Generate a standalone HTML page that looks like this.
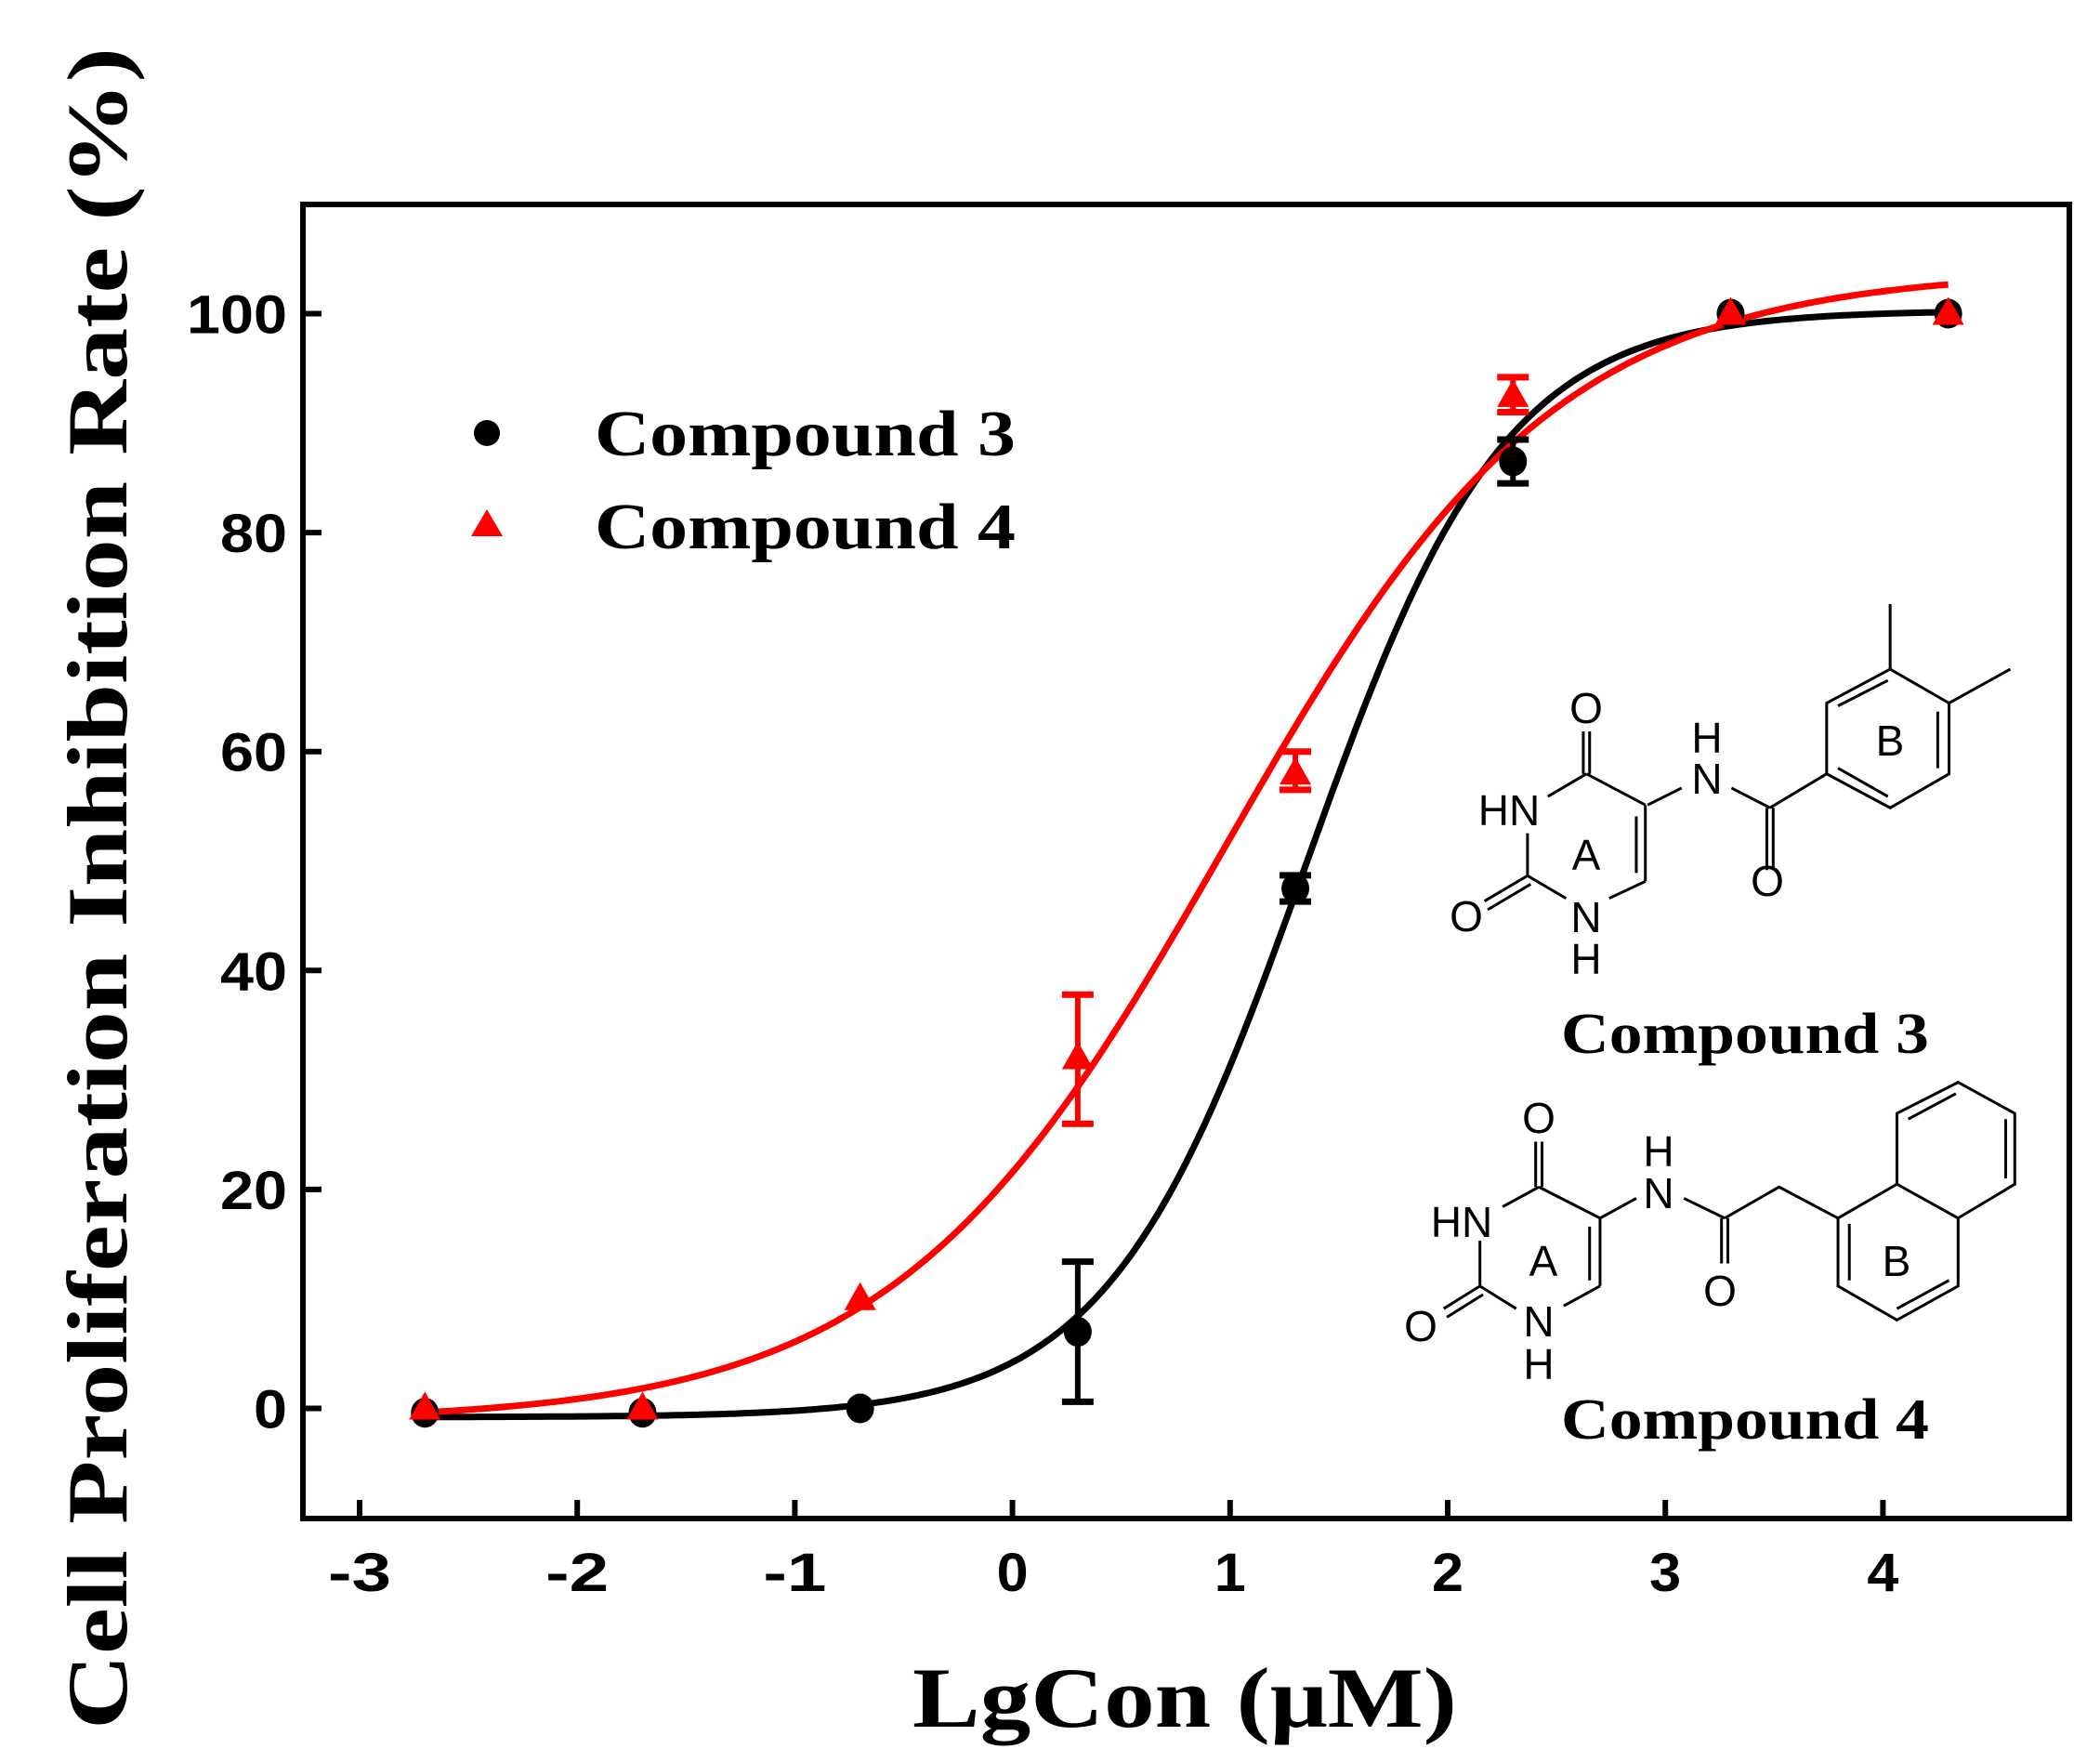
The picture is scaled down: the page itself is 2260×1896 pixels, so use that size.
<!DOCTYPE html>
<html><head><meta charset="utf-8"><style>
html,body{margin:0;padding:0;background:#fff;}
svg{display:block;}
.tick{font-family:"Liberation Sans",Arial,sans-serif;font-weight:bold;font-size:58px;}
.ser{font-family:"Liberation Serif","Times New Roman",serif;font-weight:bold;}
.chem{font-family:"Liberation Sans",Arial,sans-serif;font-size:46px;}
</style></head><body>
<svg id="s" width="2260" height="1896" viewBox="0 0 2260 1896" xmlns="http://www.w3.org/2000/svg">
<rect width="2260" height="1896" fill="#fff"/>
<g id="plot"></g>
<text class="ser" x="0" y="0" font-size="92" text-anchor="middle" textLength="1810" lengthAdjust="spacingAndGlyphs" transform="translate(136,956) rotate(-90)">Cell Proliferation Inhibition Rate (%)</text>
<text class="ser" x="1275" y="1858" font-size="92" text-anchor="middle" textLength="586" lengthAdjust="spacingAndGlyphs">LgCon (μM)</text>
<circle cx="524" cy="466" r="14" fill="#000"/>
<polygon points="524,548 507,577 541,577" fill="#f00"/>
<text class="ser" x="640" y="490" font-size="70" textLength="453" lengthAdjust="spacingAndGlyphs">Compound 3</text>
<text class="ser" x="640" y="590" font-size="70" textLength="453" lengthAdjust="spacingAndGlyphs">Compound 4</text>
<text class="ser" x="1680" y="1133" font-size="62" textLength="396" lengthAdjust="spacingAndGlyphs">Compound 3</text>
<text class="ser" x="1680" y="1548" font-size="62" textLength="396" lengthAdjust="spacingAndGlyphs">Compound 4</text>
<g transform="translate(1500,650) scale(0.4878,0.609)" stroke="#000" stroke-width="3" fill="none">
  <path vector-effect="non-scaling-stroke" d="M418,225V300M432,225V300 M425,300L340,340 M295,405V480 M295,480L200,525 M302,495L207,540 M295,480L380,520 M475,520L555,490 M555,490V355 M535,375V475 M555,355L425,300 M560,355L635,325 M745,325L830,360 M823,360V470 M837,360V470 M830,360L955,300 M955,300V175L1095,115L1225,175V300L1095,360Z M980,180L1090,135 M1200,190V290 M1090,340L980,290 M1095,115V0 M1225,175L1360,115"/>
  <path vector-effect="non-scaling-stroke" d="M313,950V1030M327,950V1030 M320,1030L240,1065 M190,1125V1205 M190,1205L110,1245 M197,1220L117,1260 M190,1205L270,1245 M375,1240L455,1205 M455,1205V1085 M432,1100V1195 M455,1085L320,1030 M455,1085L535,1050 M640,1050L730,1085 M723,1085V1165 M737,1085V1165 M730,1085L850,1030L980,1085 M980,1085V1205L1110,1265L1245,1205V1085L1110,1025Z M1005,1095V1195 M1110,1245L1225,1195 M1110,1025V900L1245,845L1370,900V1025L1245,1085 M1135,910L1240,865 M1350,910V1015"/>
</g>
<g class="chem" fill="#000" text-anchor="middle">
  <text x="1707" y="778">O</text><text x="1624" y="888">HN</text><text x="1578" y="1002">O</text>
  <text x="1707" y="1003">N</text><text x="1707" y="1048">H</text><text x="1837" y="854">N</text><text x="1837" y="810">H</text>
  <text x="1902" y="964">O</text><text x="2034" y="813">B</text><text x="1707" y="936">A</text>
  <text x="1656" y="1219">O</text><text x="1573" y="1331">HN</text><text x="1529" y="1443">O</text>
  <text x="1656" y="1438">N</text><text x="1656" y="1484">H</text><text x="1785" y="1300">N</text><text x="1785" y="1255">H</text>
  <text x="1851" y="1405">O</text><text x="2041" y="1373">B</text><text x="1661" y="1373">A</text>
</g>
</svg>
<script>
(function(){
var g=document.getElementById('plot'),NS='http://www.w3.org/2000/svg';
function X(v){return 387+(v+3)*234.2;}
function Y(v){return 1515.5-v*11.78;}
function el(t,a){var e=document.createElementNS(NS,t);for(var k in a)e.setAttribute(k,a[k]);g.appendChild(e);return e;}
el('rect',{x:326,y:220,width:1901,height:1414,fill:'none',stroke:'#000','stroke-width':6});
for(var i=-3;i<=4;i++){var x=X(i);el('line',{x1:x,y1:1634,x2:x,y2:1614,stroke:'#000','stroke-width':6});
 var s=String(i);var t=el('text',{x:x,y:1712,'text-anchor':'middle','class':'tick',textLength:s.length*34,lengthAdjust:'spacingAndGlyphs'});t.textContent=s;}
for(var v=0;v<=100;v+=20){var y=Y(v);el('line',{x1:326,y1:y,x2:346,y2:y,stroke:'#000','stroke-width':6});
 var s=String(v);var t=el('text',{x:309,y:y+21,'text-anchor':'end','class':'tick',textLength:s.length*36,lengthAdjust:'spacingAndGlyphs'});t.textContent=s;}
function curve(A1,A2,x0,p,col){var d='';for(var x=-2.7;x<=4.301;x+=0.02){var y=A1+(A2-A1)/(1+Math.pow(10,(x0-x)*p));d+=(d?'L':'M')+X(x).toFixed(1)+','+Y(y).toFixed(1);}
 el('path',{d:d,fill:'none',stroke:col,'stroke-width':7});}
curve(-0.8,100.3,1.35,0.95,'#000');
curve(-1.2,104,0.98,0.57,'#f00');
function eb(x,lo,hi,col){var cx=X(x);el('line',{x1:cx,y1:Y(lo),x2:cx,y2:Y(hi),stroke:col,'stroke-width':6});
 [lo,hi].forEach(function(v){el('line',{x1:cx-17,y1:Y(v),x2:cx+17,y2:Y(v),stroke:col,'stroke-width':7});});}
var c3=[[-2.7,-0.4],[-1.7,-0.4],[-0.7,0],[0.3,7],[1.3,47.5],[2.3,86.5],[3.3,100],[4.3,100]];
var c4=[[-2.7,0],[-1.7,0],[-0.7,10],[0.3,32],[1.3,58],[2.3,92.5],[3.3,100],[4.3,100]];
eb(0.3,0.6,13.4,'#000');eb(1.3,46.3,48.7,'#000');eb(2.3,84.5,88.5,'#000');
eb(0.3,26,37.8,'#f00');eb(1.3,56.5,60,'#f00');eb(2.3,91,94.2,'#f00');
c3.forEach(function(p){el('ellipse',{cx:X(p[0]),cy:Y(p[1]),rx:15,ry:16,fill:'#000'});});
c4.forEach(function(p){var x=X(p[0]),y=Y(p[1]);el('polygon',{points:(x)+','+(y-18)+' '+(x-17)+','+(y+12)+' '+(x+17)+','+(y+12),fill:'#f00'});});
})();
</script>
</body></html>
